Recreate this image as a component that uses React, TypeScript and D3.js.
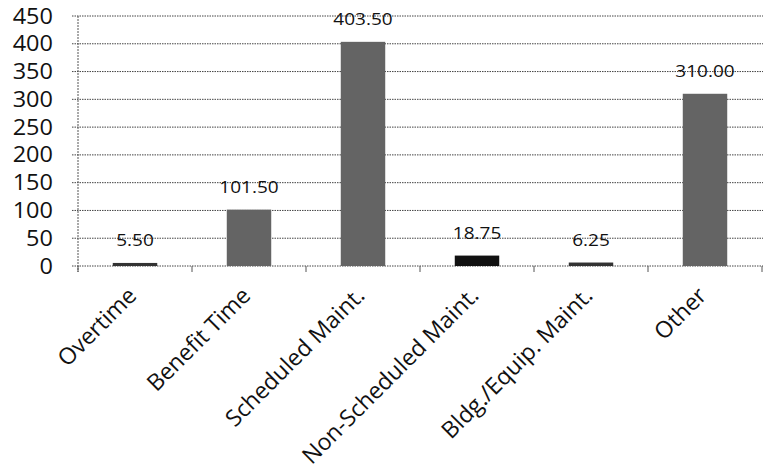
import React from "react";
import * as d3 from "d3";

// Hours by activity
const categories = [
  "Overtime",
  "Benefit Time",
  "Scheduled Maint.",
  "Non-Scheduled Maint.",
  "Bldg./Equip. Maint.",
  "Other",
];
const hours = [5.5, 101.5, 403.5, 18.75, 6.25, 310.0];
const yTicks = [0, 50, 100, 150, 200, 250, 300, 350, 400, 450];

const W = 763;
const H = 473;
const left = 78;
const right = 762;
const top = 16;
const bottom = 266;
const STRETCH = 1.12;
const FONT = "'Open Sans', 'DejaVu Sans', sans-serif";

export default function App() {
  const x = d3.scaleBand<string>().domain(categories).range([left, right]).paddingInner(0.61).paddingOuter(0.305);
  const y = d3.scaleLinear().domain([0, 450]).range([bottom, top]);
  const band = (right - left) / categories.length;
  const boundaries = d3.range(categories.length + 1).map((i) => left + i * band);

  const barFill = (c: string, v: number) =>
    c === "Non-Scheduled Maint." ? "#111" : v < 10 ? "#333" : "#646464";

  return (
    <svg
      width={W}
      height={H}
      style={{ position: "absolute", left: 0, top: 0, background: "#fff" }}
      fontFamily={FONT}
    >
      {/* horizontal gridlines */}
      {yTicks.map((t) => (
        <line
          key={"g" + t}
          x1={72}
          x2={W}
          y1={y(t)}
          y2={y(t)}
          stroke="#444"
          strokeWidth={1}
          strokeDasharray="1.5,1"
        />
      ))}
      {/* value axis */}
      <line x1={left} x2={left} y1={top} y2={bottom + 6} stroke="#555" strokeDasharray="2,1" />
      {/* category tick marks */}
      {boundaries.map((b, i) => (
        <line key={"t" + i} x1={b} x2={b} y1={bottom} y2={bottom + 6} stroke="#555" />
      ))}
      {/* y tick labels */}
      {yTicks.map((t) => (
        <text
          key={"yl" + t}
          transform={`translate(53,${y(t) + 7.5}) scale(${STRETCH},1)`}
          textAnchor="end"
          fontSize={21}
          fill="#111"
        >
          {t}
        </text>
      ))}
      {/* bars */}
      {categories.map((c, i) => (
        <rect
          key={"b" + c}
          x={x(c)}
          y={y(hours[i])}
          width={x.bandwidth()}
          height={bottom - y(hours[i])}
          fill={barFill(c, hours[i])}
        />
      ))}
      {/* value labels */}
      {categories.map((c, i) => (
        <text
          key={"v" + c}
          transform={`translate(${(x(c) as number) + x.bandwidth() / 2},${y(hours[i]) - 17}) scale(${STRETCH},1)`}
          textAnchor="middle"
          fontSize={17}
          fill="#111"
        >
          {hours[i].toFixed(2)}
        </text>
      ))}
      {/* category labels */}
      {categories.map((c) => (
        <text
          key={"c" + c}
          transform={`translate(${(x(c) as number) + x.bandwidth() / 2 + 3},${bottom + 31}) rotate(-45)`}
          textAnchor="end"
          fontSize={23}
          fill="#111"
        >
          {c}
        </text>
      ))}
    </svg>
  );
}
